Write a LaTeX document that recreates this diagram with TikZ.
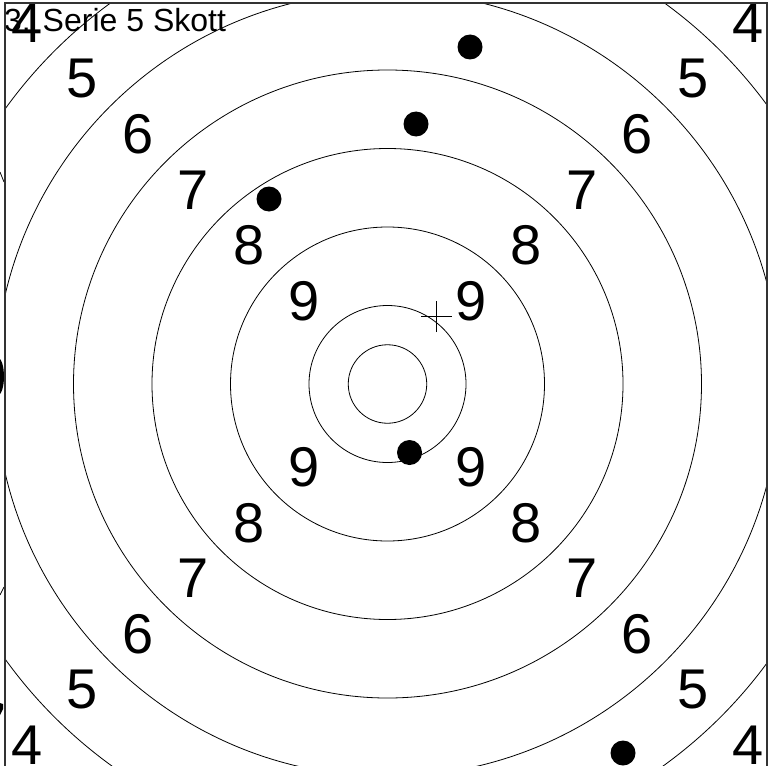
\documentclass[tikz,border=0pt]{standalone}
\usepackage{fontspec}
\setmainfont{Liberation Sans}
\tikzset{
  ring/.style={line width=0.8pt},
  ringnum/.style={font=\fontsize{56}{62}\selectfont, inner sep=0pt},
  shot/.style={fill=black},
  targetframe/.style={line width=1.3pt, black!80},
}
\begin{document}
\begin{tikzpicture}[x=1pt,y=-1pt]
	\useasboundingbox (0,0) rectangle (770,765);
	\coordinate (c) at (387.5,384);
	% rings, cut at the frame
	\begin{scope}
		\clip (5,3) rectangle (767,770);
		\foreach \k in {1,2,4,6,8,10,12}
			\draw[ring] (c) circle[radius=\k*39.25];
	\end{scope}

	% ring values on the diagonals
	\foreach \n in {4,...,9} {
		\pgfmathsetmacro{\d}{55.5*(10.5-\n)}
		\node[ringnum] (nw\n) at ([shift={(-\d,-\d)}]c) {\n};
		\node[ringnum] (ne\n) at ([shift={(\d,-\d)}]c) {\n};
		\node[ringnum] (sw\n) at ([shift={(-\d,\d)}]c) {\n};
		\node[ringnum] (se\n) at ([shift={(\d,\d)}]c) {\n};
	}

	\node[anchor=base west, inner sep=0pt, font=\fontsize{32}{38}\selectfont] (title) at (4,32) {3. Serie 5 Skott};

	% shots
	\fill[shot] (470,47) circle[radius=12.5];
	\fill[shot] (416,124) circle[radius=12.5];
	\fill[shot] (269,199) circle[radius=12.5];
	\fill[shot] (409.5,452.5) circle[radius=12.5];
	\fill[shot] (623,753) circle[radius=12.5];

	% mean point
	\coordinate (aim) at (436.5,316.5);
	\draw[ring] ([yshift=-15.5pt]aim) -- ([yshift=15.5pt]aim);
	\draw[ring] ([xshift=-15.5pt]aim) -- ([xshift=15.5pt]aim);

	% bits of the next target at the left edge
	\fill (-2,376.5) ellipse[x radius=6, y radius=18.5];
	\fill (0,703) -- (3,704) -- (3,709) -- (0,715) -- cycle;
	\draw[ring] (0,172) -- (4,182);
	\draw[ring] (0,595) -- (4,587);

	\draw[targetframe] (5,3) rectangle (767,770);
\end{tikzpicture}
\end{document}
